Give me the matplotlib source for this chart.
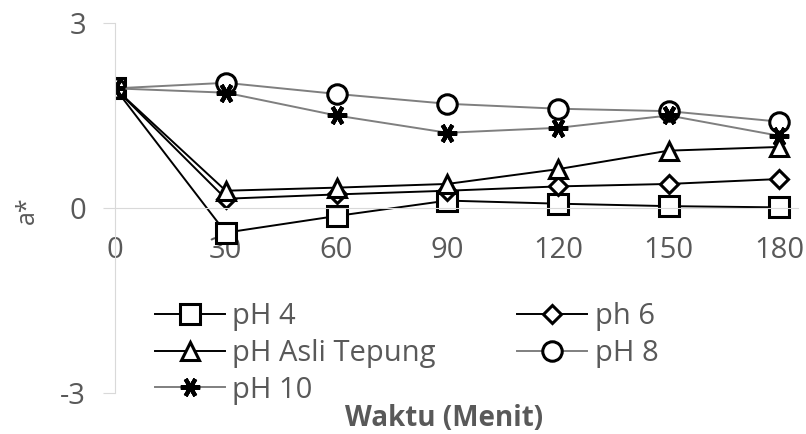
import matplotlib.pyplot as plt

waktu = [0, 30, 60, 90, 120, 150, 180]
ph4 = [1.94, -0.40, -0.13, 0.12, 0.07, 0.03, 0.01]
ph6 = [1.94, 0.15, 0.22, 0.28, 0.35, 0.39, 0.47]
ph_asli = [1.94, 0.28, 0.33, 0.39, 0.63, 0.93, 0.99]
ph8 = [1.94, 2.03, 1.85, 1.69, 1.61, 1.57, 1.40]
ph10 = [1.94, 1.87, 1.50, 1.22, 1.30, 1.50, 1.17]

plt.rcParams['font.family'] = ['Open Sans', 'DejaVu Sans']
plt.rcParams['axes.unicode_minus'] = False
grey_txt = '#595959'
axis_col = '#d9d9d9'
fs = 21

fig = plt.figure(figsize=(8.06, 4.34), dpi=100)
ax = fig.add_axes([0.1427, 0.0945, 0.8473, 0.8525])

mk = dict(markerfacecolor='white', markeredgecolor='black', markeredgewidth=2.2)
l4, = ax.plot(waktu, ph4, color='black', lw=1.4, marker='s', markersize=14, label='pH 4', **mk)
l6, = ax.plot(waktu, ph6, color='black', lw=1.4, marker='D', markersize=9, label='ph 6', **mk)
la, = ax.plot(waktu, ph_asli, color='black', lw=1.4, marker='^', markersize=13, label='pH Asli Tepung', **mk)
l8, = ax.plot(waktu, ph8, color='#7f7f7f', lw=1.4, marker='o', markersize=14, label='pH 8', **mk)
l10, = ax.plot(waktu, ph10, color='#7f7f7f', lw=1.4, marker=(6, 2, 90), markersize=14,
               markeredgecolor='black', markeredgewidth=3, label='pH 10')

ax.set_xlim(0, 185)
ax.set_ylim(-3, 3)
ax.set_xticks(waktu)
ax.set_yticks([-3, 0, 3])

for s in ['top', 'right']:
    ax.spines[s].set_visible(False)
ax.spines['bottom'].set_position(('data', 0))
ax.spines['bottom'].set_color(axis_col)
ax.spines['left'].set_color(axis_col)
ax.tick_params(axis='x', length=0, pad=20, labelsize=fs, labelcolor=grey_txt)
ax.tick_params(axis='y', length=9, color=axis_col, pad=12, labelsize=fs, labelcolor=grey_txt)

fig.text(0.034, 0.516, 'a*', rotation=90, ha='center', va='center', fontsize=fs - 3, color=grey_txt)
fig.text(0.551, 0.036, 'Waktu (Menit)', ha='center', va='center', fontsize=fs - 1,
         fontweight='bold', color=grey_txt)

ax.legend([l4, la, l10, l6, l8], ['pH 4', 'pH Asli Tepung', 'pH 10', 'ph 6', 'pH 8'],
          ncol=2, frameon=False, fontsize=fs, handlelength=2.4, columnspacing=2.8,
          labelspacing=0.27, handletextpad=0.25, labelcolor=grey_txt, borderpad=0,
          loc='upper left', bbox_to_anchor=(0.174, 0.338), bbox_transform=fig.transFigure)

fig.savefig('out.png', dpi=100)
